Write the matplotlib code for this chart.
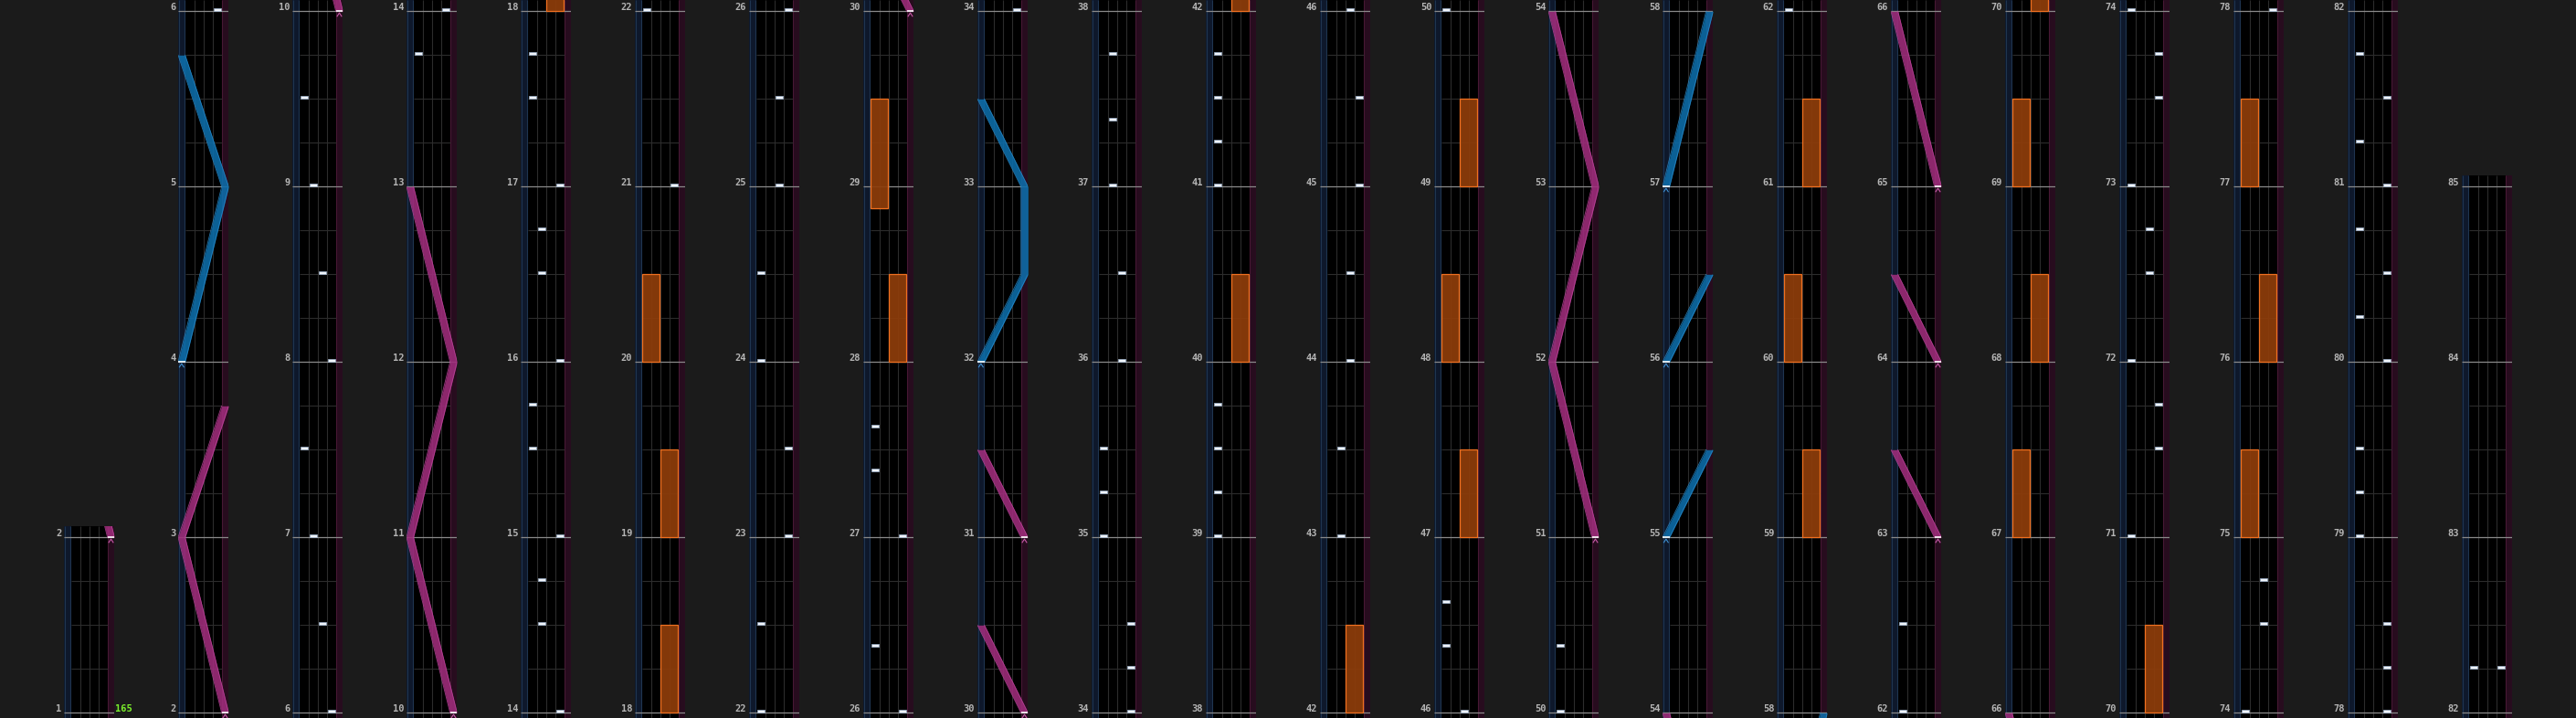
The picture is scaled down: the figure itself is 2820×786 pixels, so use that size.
import matplotlib
matplotlib.use("Agg")
import matplotlib.pyplot as plt
from matplotlib.patches import Rectangle

# chart structure: 4 measures per column, first column only holds measure 1
first_measure = 1
last_measure = 85
col_start = [first_measure] + list(range(2, last_measure, 4))
col_end = col_start[1:] + [last_measure]

# BPM changes (measure, bpm)
bpm_changes = [(1, 165)]

# BT chips (measure, lane 0-3)
bt_notes = [
    (6, 3), (6.5, 2), (7, 1), (7.5, 0), (8, 3), (8.5, 2), (9, 1), (9.5, 0),
    (13.75, 0), (14, 3),
    (14.5, 1), (14.75, 1), (15, 3), (15.5, 0), (15.75, 0), (16, 3),
    (16.5, 1), (16.75, 1), (17, 3), (17.5, 0), (17.75, 0),
    (21, 3), (22, 0),
    (22.5, 0), (23, 3), (23.5, 3), (24, 0), (24.5, 0), (25, 2), (25.5, 2), (26, 3),
    (26.375, 0), (27, 3), (27.375, 0), (27.625, 0),
    (34, 3),
    (34.25, 3), (34.5, 3), (35, 0), (35.25, 0), (35.5, 0), (36, 2), (36.5, 2),
    (37, 1), (37.375, 1), (37.75, 1),
    (39, 0), (39.25, 0), (39.5, 0), (39.75, 0), (41, 0), (41.25, 0), (41.5, 0), (41.75, 0),
    (43, 1), (43.5, 1), (44, 2), (44.5, 2), (45, 3), (45.5, 3), (46, 2),
    (46.375, 0), (46.625, 0), (50, 0), (50.375, 0),
    (62, 0), (62.5, 0),
    (71, 0), (71.5, 3), (71.75, 3), (72, 0), (72.5, 2), (72.75, 2), (73, 0),
    (73.5, 3), (73.75, 3), (74, 0),
    (74.5, 2), (74.75, 2), (78, 3),
    (78.25, 3), (78.5, 3), (79, 0), (79.25, 0), (79.5, 0), (80, 3), (80.25, 0),
    (80.5, 3), (80.75, 0), (81, 3), (81.25, 0), (81.5, 3), (81.75, 0),
    (82.25, 0), (82.25, 3),
]

# FX holds (start, end) in measures
fx_left = [(20, 20.5), (28.875, 29.5), (48, 48.5), (60, 60.5), (67, 67.5),
           (69, 69.5), (75, 75.5), (77, 77.5)]
fx_right = [(18, 18.5), (19, 19.5), (28, 28.5), (40, 40.5), (42, 42.5), (47, 47.5),
            (49, 49.5), (59, 59.5), (61, 61.5), (68, 68.5), (70, 70.5), (76, 76.5)]

# lasers: lists of (measure, position 0=left .. 1=right)
laser_left = [
    [(4, 0), (5, 1), (5.75, 0)],
    [(32, 0), (32.5, 1), (33, 1), (33.5, 0)],
    [(55, 0), (55.5, 1)],
    [(56, 0), (56.5, 1)],
    [(57, 0), (58, 1)],
]
laser_right = [
    [(2, 1), (3, 0), (3.75, 1)],
    [(10, 1), (11, 0), (12, 1), (13, 0)],
    [(30, 1), (30.5, 0)],
    [(31, 1), (31.5, 0)],
    [(51, 1), (52, 0), (53, 1), (54, 0)],
    [(63, 1), (63.5, 0)],
    [(64, 1), (64.5, 0)],
    [(65, 1), (66, 0)],
]

# look
W, H = 2820, 786
PX = 192          # pixels per measure
STRIP = 0.767     # laser strip width in lane units (1 lane = 10 px)
COL_W = (4 + 2 * STRIP) * 10
BG = '#1b1b1b'
GRID = '#2c2c2c'
BAR = '#8a8a8a'
LABEL = '#b4b4b4'
lasers = [(laser_left, '#0d6eab', '#2a8ccc', '#3f8fd0'),
          (laser_right, '#a02d7c', '#c0479f', '#c75aa8')]

fig = plt.figure(figsize=(W / 100, H / 100), dpi=100, facecolor=BG)

for k, (s, e) in enumerate(zip(col_start, col_end)):
    lo = s - 5.7 / PX
    hi = e + 12.3 / PX
    h = min((hi - lo) * PX, H)
    left = 70 + 125 * k
    ax = fig.add_axes([left / W, 0, COL_W / W, h / H])
    ax.set_xlim(-STRIP, 4 + STRIP)
    ax.set_ylim(lo, hi)
    ax.set_facecolor('black')
    ax.set_xticks([])
    ax.set_yticks([])
    for sp in ax.spines.values():
        sp.set_visible(False)

    # laser strips
    ax.axvspan(-STRIP, 0, color='#0e182b', lw=0, zorder=0.5)
    ax.axvspan(4, 4 + STRIP, color='#270c1e', lw=0, zorder=0.5)
    ax.vlines([-STRIP + 0.06, -0.06], lo, hi, color='#1f3550', lw=0.8, zorder=0.6)
    ax.vlines([4.06, 4 + STRIP - 0.06], lo, hi, color='#471834', lw=0.8, zorder=0.6)

    # lanes and beats
    ax.vlines([1, 2, 3], lo, hi, color=GRID, lw=0.8, zorder=1)
    beats = [m + q for m in range(s, e) for q in (0.25, 0.5, 0.75)]
    ax.hlines(beats, 0, 4, color=GRID, lw=0.8, zorder=1)

    # measure lines and numbers
    for m in range(s, e + 1):
        ax.hlines(m, -STRIP, 4 + STRIP, color=BAR, lw=0.9, zorder=2)
        ax.text(-STRIP - 0.27, m + 1 / PX, str(m), ha='right', va='baseline',
                color=LABEL, fontsize=7.5, fontweight='bold',
                family='DejaVu Sans Mono', clip_on=False)

    for m, bpm in bpm_changes:
        if s <= m <= e:
            ax.text(4 + STRIP + 0.07, m + 1 / PX, str(bpm), ha='left', va='baseline',
                    color='#7cf02c', fontsize=7.5, fontweight='bold',
                    family='DejaVu Sans Mono', clip_on=False)

    # FX holds
    for x0, holds in ((0, fx_left), (2, fx_right)):
        for a, b in holds:
            ax.add_patch(Rectangle((x0 + 0.06, a), 1.88, b - a,
                                   fc=(0.56, 0.24, 0.04, 0.92), ec='#f07020',
                                   lw=0.9, zorder=3))

    # lasers
    hw = STRIP / 2
    for segs, col, edge, mark in lasers:
        for pts in segs:
            ms = [p[0] for p in pts]
            xs = [-hw + p[1] * (4 + STRIP) for p in pts]
            ax.fill_betweenx(ms, [x - hw for x in xs], [x + hw for x in xs],
                             color=col, alpha=0.88, lw=0, zorder=4)
            ax.plot([x - hw for x in xs], ms, color=edge, lw=0.6, alpha=0.8, zorder=4.1)
            ax.plot([x + hw for x in xs], ms, color=edge, lw=0.6, alpha=0.8, zorder=4.1)
            m0, x0 = ms[0], xs[0]
            ax.hlines(m0, x0 - hw, x0 + hw, color='white', lw=1.2, zorder=6)
            ax.plot([x0 - 0.24, x0, x0 + 0.24], [m0 - 5.5 / PX, m0 - 1.8 / PX, m0 - 5.5 / PX],
                    color=mark, lw=0.8, zorder=6)

    # BT chips
    for m, lane in bt_notes:
        ax.add_patch(Rectangle((lane + 0.09, m + 0.4 / PX), 0.82, 2.6 / PX,
                               fc='#f0f4fa', ec='#9db2cc', lw=0.5, zorder=5))

fig.savefig('out.png', dpi=100, facecolor=BG)
